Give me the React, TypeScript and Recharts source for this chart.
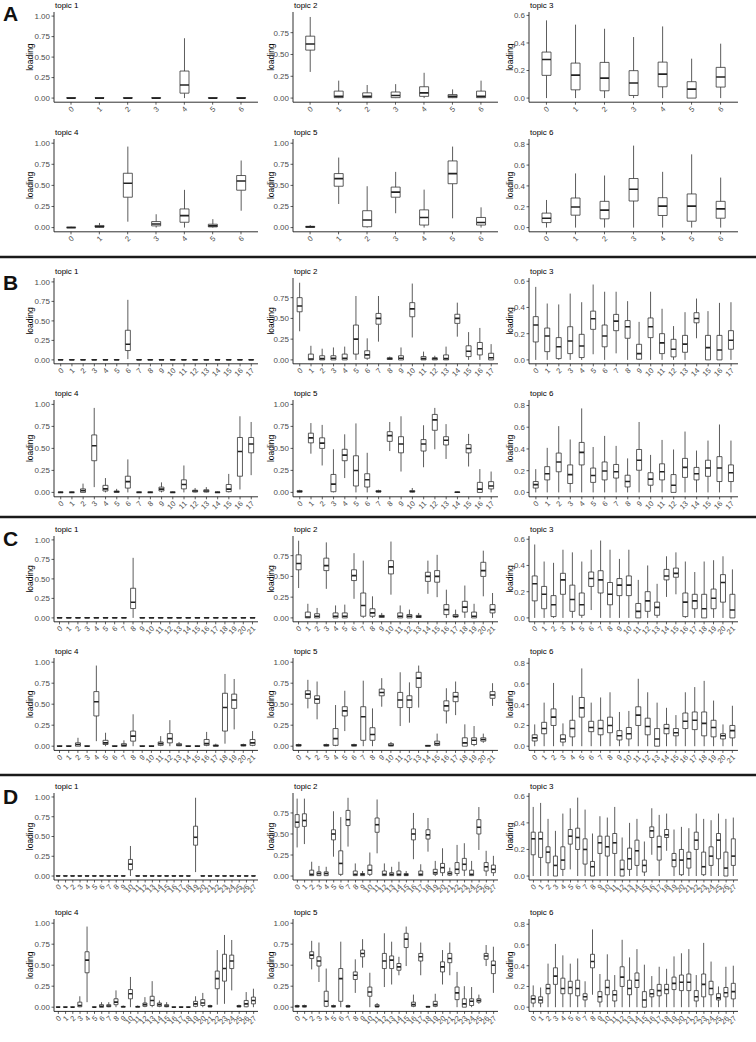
import React from "react";
import { Bar, BarChart, XAxis, YAxis } from "recharts";

// box stats per category: [lower whisker, q1, median, q3, upper whisker]
const Z = [0, 0, 0, 0.005, 0.01];

const catsA = ["0", "1", "2", "3", "4", "5", "6"];
const catsB = ["0", "1", "2", "3", "4", "5", "6", "7", "8", "9", "10", "11", "12", "13", "14", "15", "16", "17"];
const catsC = ["0", "1", "2", "3", "4", "5", "6", "7", "8", "9", "10", "11", "12", "13", "14", "15", "16", "17", "18", "19", "20", "21"];
const catsD = ["0", "1", "2", "3", "4", "5", "6", "7", "8", "9", "10", "11", "12", "13", "14", "15", "16", "17", "18", "19", "20", "21", "22", "23", "24", "25", "26", "27"];

const a1 = [Z, Z, Z, Z, [0, 0.06, 0.16, 0.33, 0.73], Z, Z];
const a2 = [[0.3, 0.55, 0.62, 0.71, 0.93], [0, 0.005, 0.02, 0.08, 0.2], [0, 0.005, 0.02, 0.06, 0.15], [0, 0.005, 0.03, 0.07, 0.16], [0, 0.02, 0.06, 0.13, 0.29], [0, 0.005, 0.02, 0.04, 0.1], [0, 0.005, 0.02, 0.08, 0.2]];
const a3 = [[0, 0.165, 0.28, 0.334, 0.564], [0, 0.06, 0.167, 0.254, 0.533], [0, 0.053, 0.145, 0.259, 0.503], [0, 0.019, 0.109, 0.199, 0.443], [0, 0.082, 0.174, 0.261, 0.52], [0, 0, 0.065, 0.119, 0.286], [0, 0.08, 0.153, 0.223, 0.395]];
const a4 = [Z, [0, 0.005, 0.01, 0.025, 0.055], [0.07, 0.36, 0.526, 0.644, 0.96], [0, 0.02, 0.043, 0.071, 0.158], [0, 0.063, 0.142, 0.221, 0.447], [0, 0.008, 0.02, 0.04, 0.1], [0.2, 0.443, 0.553, 0.617, 0.795]];
const a5 = [[0, 0.003, 0.008, 0.015, 0.03], [0.28, 0.49, 0.58, 0.64, 0.83], [0, 0.01, 0.09, 0.2, 0.49], [0.17, 0.36, 0.42, 0.48, 0.66], [0, 0.03, 0.12, 0.21, 0.45], [0.11, 0.52, 0.64, 0.79, 0.96], [0, 0.03, 0.06, 0.12, 0.24]];
const a6 = [[0, 0.048, 0.09, 0.139, 0.265], [0, 0.119, 0.197, 0.284, 0.52], [0, 0.084, 0.168, 0.252, 0.5], [0, 0.255, 0.368, 0.471, 0.787], [0, 0.116, 0.206, 0.287, 0.535], [0, 0.061, 0.206, 0.323, 0.703], [0, 0.09, 0.18, 0.252, 0.48]];

const b1 = [Z, Z, Z, Z, Z, Z, [0.01, 0.12, 0.2, 0.38, 0.77], Z, Z, Z, Z, Z, Z, Z, Z, Z, Z, Z];
const b2 = [[0.345, 0.58, 0.65, 0.75, 0.93], [0, 0, 0.01, 0.07, 0.17], [0, 0, 0.015, 0.05, 0.135], [0, 0, 0.02, 0.05, 0.15], [0, 0, 0.02, 0.07, 0.16], [0, 0.07, 0.25, 0.42, 0.77], [0, 0.02, 0.06, 0.11, 0.26], [0.22, 0.43, 0.5, 0.56, 0.77], [0, 0.005, 0.015, 0.025, 0.04], [0, 0, 0.02, 0.05, 0.15], [0.27, 0.52, 0.615, 0.69, 0.92], [0, 0, 0.015, 0.04, 0.1], [0, 0, 0.015, 0.025, 0.05], [0, 0, 0.015, 0.06, 0.16], [0.28, 0.44, 0.5, 0.55, 0.69], [0, 0.04, 0.105, 0.17, 0.335], [0, 0.06, 0.135, 0.21, 0.385], [0, 0, 0.025, 0.08, 0.19]];
const b3 = [[0, 0.137, 0.266, 0.33, 0.557], [0, 0.063, 0.182, 0.243, 0.43], [0, 0.01, 0.1, 0.17, 0.423], [0, 0.048, 0.144, 0.253, 0.506], [0, 0.018, 0.106, 0.195, 0.44], [0.043, 0.233, 0.314, 0.372, 0.575], [0, 0.1, 0.182, 0.266, 0.52], [0.05, 0.223, 0.296, 0.347, 0.52], [0, 0.165, 0.253, 0.3, 0.448], [0, 0.005, 0.048, 0.119, 0.29], [0, 0.17, 0.253, 0.32, 0.52], [0, 0.048, 0.13, 0.2, 0.39], [0, 0.023, 0.081, 0.157, 0.258], [0, 0.058, 0.12, 0.187, 0.364], [0.165, 0.283, 0.316, 0.36, 0.468], [0, 0, 0.094, 0.187, 0.372], [0, 0, 0.076, 0.187, 0.435], [0, 0.081, 0.15, 0.223, 0.44]];
const b4 = [Z, Z, [0, 0, 0.02, 0.04, 0.1], [0.06, 0.36, 0.53, 0.653, 0.96], [0, 0.016, 0.04, 0.08, 0.163], [0, 0, 0.008, 0.016, 0.04], [0, 0.049, 0.122, 0.184, 0.375], Z, Z, [0, 0.016, 0.037, 0.06, 0.114], Z, [0, 0.04, 0.09, 0.143, 0.306], [0, 0.004, 0.016, 0.025, 0.05], [0, 0.004, 0.016, 0.03, 0.06], Z, [0, 0.008, 0.037, 0.09, 0.21], [0.033, 0.184, 0.465, 0.624, 0.865], [0.196, 0.45, 0.55, 0.624, 0.8]];
const b5 = [[0, 0.003, 0.01, 0.02, 0.03], [0.44, 0.563, 0.62, 0.673, 0.788], [0.306, 0.5, 0.56, 0.62, 0.767], [0, 0.008, 0.094, 0.204, 0.49], [0.163, 0.36, 0.424, 0.49, 0.66], [0, 0.073, 0.249, 0.416, 0.784], [0, 0.061, 0.143, 0.212, 0.45], [0, 0.004, 0.01, 0.02, 0.03], [0.47, 0.58, 0.645, 0.69, 0.8], [0.237, 0.45, 0.55, 0.633, 0.865], [0, 0.004, 0.01, 0.02, 0.05], [0.286, 0.47, 0.55, 0.6, 0.763], [0.49, 0.706, 0.824, 0.886, 0.96], [0.38, 0.539, 0.592, 0.633, 0.776], [0, 0, 0.002, 0.005, 0.01], [0.294, 0.449, 0.498, 0.543, 0.665], [0, 0, 0.037, 0.114, 0.265], [0, 0.04, 0.073, 0.122, 0.237]];
const b6 = [[0, 0.04, 0.072, 0.1, 0.214], [0, 0.115, 0.171, 0.237, 0.41], [0, 0.19, 0.28, 0.362, 0.61], [0, 0.082, 0.164, 0.253, 0.487], [0, 0.253, 0.368, 0.46, 0.773], [0, 0.092, 0.155, 0.224, 0.418], [0, 0.115, 0.197, 0.28, 0.52], [0, 0.132, 0.19, 0.257, 0.428], [0, 0.05, 0.1, 0.158, 0.313], [0, 0.204, 0.296, 0.395, 0.648], [0, 0.066, 0.122, 0.181, 0.345], [0, 0.115, 0.19, 0.263, 0.483], [0, 0, 0.066, 0.164, 0.395], [0, 0.138, 0.23, 0.313, 0.56], [0, 0.115, 0.171, 0.23, 0.385], [0, 0.148, 0.224, 0.296, 0.477], [0, 0.1, 0.224, 0.329, 0.625], [0, 0.1, 0.181, 0.253, 0.477]];

const c1 = [Z, Z, Z, Z, Z, Z, Z, Z, [0, 0.12, 0.2, 0.38, 0.77], Z, Z, Z, Z, Z, Z, Z, Z, Z, Z, Z, Z, Z];
const c2 = [[0.36, 0.58, 0.655, 0.76, 0.93], [0, 0, 0.01, 0.07, 0.17], [0, 0, 0.02, 0.05, 0.12], [0.35, 0.57, 0.63, 0.72, 0.91], [0, 0, 0.02, 0.06, 0.15], [0, 0, 0.02, 0.06, 0.16], [0.23, 0.45, 0.51, 0.58, 0.78], [0, 0.02, 0.15, 0.3, 0.69], [0, 0.02, 0.06, 0.11, 0.26], [0, 0.005, 0.02, 0.03, 0.06], [0.28, 0.53, 0.615, 0.69, 0.92], [0, 0, 0.02, 0.06, 0.15], [0, 0, 0.02, 0.04, 0.1], [0, 0.005, 0.015, 0.03, 0.06], [0.29, 0.44, 0.5, 0.55, 0.69], [0.25, 0.43, 0.5, 0.57, 0.76], [0, 0.04, 0.1, 0.16, 0.34], [0, 0.01, 0.02, 0.04, 0.1], [0, 0.07, 0.13, 0.2, 0.39], [0, 0, 0.02, 0.07, 0.17], [0.26, 0.5, 0.57, 0.67, 0.81], [0, 0.06, 0.1, 0.16, 0.3]];
const c3 = [[0, 0.13, 0.26, 0.32, 0.56], [0, 0.07, 0.18, 0.24, 0.43], [0, 0.01, 0.1, 0.17, 0.42], [0, 0.18, 0.29, 0.34, 0.52], [0, 0.05, 0.14, 0.25, 0.5], [0, 0.02, 0.1, 0.19, 0.43], [0.06, 0.24, 0.3, 0.35, 0.52], [0, 0.19, 0.29, 0.36, 0.59], [0, 0.1, 0.18, 0.27, 0.52], [0, 0.17, 0.25, 0.3, 0.45], [0, 0.17, 0.25, 0.32, 0.52], [0, 0, 0.05, 0.11, 0.29], [0, 0.05, 0.13, 0.2, 0.4], [0, 0.02, 0.08, 0.12, 0.26], [0.16, 0.29, 0.32, 0.37, 0.47], [0.18, 0.31, 0.34, 0.38, 0.5], [0, 0.01, 0.12, 0.19, 0.43], [0, 0.07, 0.13, 0.18, 0.35], [0, 0, 0.07, 0.18, 0.43], [0, 0.07, 0.15, 0.22, 0.44], [0, 0.12, 0.27, 0.33, 0.47], [0, 0, 0.06, 0.18, 0.37]];
const c4 = [Z, Z, [0, 0, 0.02, 0.04, 0.1], Z, [0.06, 0.36, 0.53, 0.65, 0.96], [0, 0.02, 0.04, 0.07, 0.16], Z, [0, 0, 0.01, 0.03, 0.07], [0, 0.06, 0.12, 0.18, 0.38], Z, Z, [0, 0.01, 0.03, 0.05, 0.12], [0, 0.04, 0.09, 0.15, 0.31], [0, 0.005, 0.015, 0.03, 0.05], Z, Z, [0, 0.01, 0.03, 0.08, 0.17], [0, 0, 0.005, 0.015, 0.03], [0.03, 0.18, 0.46, 0.63, 0.86], [0.2, 0.45, 0.55, 0.62, 0.8], [0, 0.005, 0.01, 0.02, 0.03], [0, 0.01, 0.04, 0.08, 0.18]];
const c5 = [[0, 0.003, 0.01, 0.02, 0.03], [0.45, 0.57, 0.62, 0.66, 0.79], [0.32, 0.51, 0.56, 0.6, 0.77], [0, 0.003, 0.01, 0.02, 0.03], [0, 0.01, 0.09, 0.21, 0.49], [0.18, 0.36, 0.42, 0.47, 0.66], [0, 0.003, 0.01, 0.02, 0.03], [0, 0.07, 0.35, 0.47, 0.78], [0, 0.07, 0.14, 0.22, 0.45], [0.47, 0.6, 0.64, 0.68, 0.81], [0, 0.005, 0.01, 0.03, 0.05], [0.24, 0.46, 0.55, 0.64, 0.88], [0.28, 0.46, 0.55, 0.6, 0.76], [0.46, 0.7, 0.81, 0.88, 0.96], [0, 0, 0.005, 0.01, 0.015], [0, 0.01, 0.03, 0.06, 0.15], [0.27, 0.42, 0.48, 0.54, 0.69], [0.37, 0.53, 0.59, 0.64, 0.77], [0, 0, 0.04, 0.1, 0.26], [0, 0.02, 0.07, 0.1, 0.24], [0.04, 0.06, 0.08, 0.1, 0.15], [0.48, 0.57, 0.61, 0.65, 0.75]];
const c6 = [[0, 0.05, 0.08, 0.11, 0.21], [0, 0.12, 0.17, 0.23, 0.42], [0, 0.2, 0.28, 0.36, 0.61], [0, 0.04, 0.07, 0.11, 0.22], [0, 0.09, 0.17, 0.25, 0.49], [0, 0.28, 0.37, 0.47, 0.75], [0, 0.14, 0.18, 0.24, 0.42], [0, 0.11, 0.17, 0.25, 0.47], [0, 0.13, 0.2, 0.28, 0.52], [0, 0.06, 0.1, 0.15, 0.33], [0, 0.07, 0.12, 0.18, 0.34], [0, 0.2, 0.3, 0.38, 0.65], [0, 0.11, 0.19, 0.27, 0.52], [0, 0, 0.07, 0.17, 0.42], [0, 0.12, 0.17, 0.21, 0.37], [0, 0.1, 0.13, 0.17, 0.3], [0, 0.17, 0.24, 0.32, 0.52], [0, 0.16, 0.25, 0.33, 0.57], [0, 0.1, 0.22, 0.33, 0.63], [0, 0.09, 0.18, 0.25, 0.44], [0, 0.07, 0.1, 0.12, 0.21], [0, 0.08, 0.15, 0.2, 0.39]];

const d1 = [Z, Z, Z, Z, Z, Z, Z, Z, Z, Z, [0, 0.08, 0.15, 0.21, 0.38], Z, Z, Z, Z, Z, Z, Z, Z, [0.05, 0.39, 0.49, 0.63, 0.99], Z, Z, Z, Z, Z, Z, Z, Z];
const d2 = [[0.34, 0.58, 0.64, 0.73, 0.92], [0.38, 0.59, 0.66, 0.74, 0.92], [0, 0.005, 0.02, 0.07, 0.17], [0, 0.005, 0.03, 0.05, 0.12], [0, 0.005, 0.03, 0.05, 0.11], [0.23, 0.43, 0.5, 0.55, 0.77], [0, 0.02, 0.15, 0.3, 0.7], [0.35, 0.6, 0.67, 0.78, 0.93], [0, 0.005, 0.02, 0.06, 0.15], [0, 0.005, 0.02, 0.03, 0.06], [0, 0.02, 0.07, 0.13, 0.28], [0.27, 0.52, 0.61, 0.69, 0.91], [0, 0.005, 0.02, 0.06, 0.15], [0, 0.005, 0.02, 0.04, 0.11], [0, 0.005, 0.02, 0.06, 0.17], [0, 0.005, 0.015, 0.03, 0.06], [0.2, 0.43, 0.5, 0.56, 0.75], [0, 0.005, 0.02, 0.06, 0.14], [0.29, 0.44, 0.49, 0.55, 0.69], [0, 0.02, 0.04, 0.08, 0.18], [0, 0.04, 0.1, 0.15, 0.33], [0, 0.01, 0.03, 0.05, 0.1], [0, 0.03, 0.08, 0.16, 0.37], [0, 0.07, 0.14, 0.21, 0.39], [0, 0.005, 0.02, 0.07, 0.18], [0.31, 0.5, 0.58, 0.67, 0.82], [0, 0.06, 0.11, 0.16, 0.3], [0, 0.04, 0.08, 0.13, 0.24]];
const d3 = [[0, 0.16, 0.28, 0.33, 0.52], [0, 0.14, 0.28, 0.33, 0.55], [0, 0.1, 0.18, 0.22, 0.43], [0, 0, 0.08, 0.15, 0.34], [0, 0.05, 0.12, 0.22, 0.47], [0.05, 0.24, 0.3, 0.35, 0.51], [0, 0.2, 0.29, 0.36, 0.59], [0, 0.09, 0.2, 0.28, 0.5], [0, 0, 0.07, 0.11, 0.32], [0, 0.17, 0.25, 0.3, 0.45], [0, 0.15, 0.22, 0.3, 0.44], [0, 0.17, 0.25, 0.32, 0.52], [0, 0, 0.05, 0.12, 0.29], [0, 0.05, 0.13, 0.21, 0.4], [0, 0.08, 0.19, 0.27, 0.43], [0, 0.03, 0.08, 0.12, 0.26], [0.16, 0.29, 0.34, 0.37, 0.51], [0, 0.12, 0.22, 0.3, 0.46], [0.19, 0.29, 0.31, 0.35, 0.47], [0, 0.07, 0.12, 0.17, 0.35], [0, 0.01, 0.12, 0.2, 0.37], [0, 0.06, 0.13, 0.18, 0.36], [0, 0.2, 0.27, 0.33, 0.47], [0, 0.01, 0.07, 0.18, 0.43], [0, 0.08, 0.15, 0.22, 0.42], [0, 0.13, 0.27, 0.32, 0.47], [0, 0, 0.06, 0.18, 0.43], [0, 0.08, 0.15, 0.28, 0.44]];
const d4 = [Z, Z, Z, [0, 0.005, 0.02, 0.06, 0.13], [0.06, 0.41, 0.56, 0.66, 0.96], Z, [0, 0, 0.01, 0.03, 0.06], [0, 0.005, 0.015, 0.03, 0.06], [0, 0.03, 0.06, 0.1, 0.2], [0, 0, 0.005, 0.01, 0.02], [0, 0.1, 0.16, 0.21, 0.36], [0, 0, 0.005, 0.01, 0.02], [0, 0.01, 0.03, 0.05, 0.12], [0, 0.02, 0.08, 0.13, 0.31], [0, 0.01, 0.03, 0.05, 0.08], [0, 0.005, 0.015, 0.03, 0.06], Z, Z, Z, [0, 0.01, 0.04, 0.07, 0.13], [0, 0.02, 0.05, 0.09, 0.17], [0, 0.005, 0.01, 0.02, 0.03], [0.03, 0.22, 0.34, 0.43, 0.68], [0.04, 0.31, 0.46, 0.63, 0.86], [0.2, 0.46, 0.55, 0.62, 0.8], [0, 0.005, 0.01, 0.02, 0.03], [0, 0.005, 0.04, 0.08, 0.18], [0, 0.04, 0.08, 0.12, 0.22]];
const d5 = [[0, 0.003, 0.01, 0.02, 0.03], [0, 0.003, 0.01, 0.02, 0.03], [0.45, 0.58, 0.62, 0.66, 0.79], [0.3, 0.49, 0.55, 0.6, 0.77], [0, 0.01, 0.07, 0.19, 0.46], [0, 0.003, 0.01, 0.02, 0.03], [0, 0.07, 0.34, 0.46, 0.78], [0, 0.003, 0.01, 0.02, 0.03], [0.17, 0.33, 0.38, 0.42, 0.57], [0.47, 0.6, 0.64, 0.68, 0.81], [0, 0.13, 0.18, 0.24, 0.41], [0, 0.005, 0.01, 0.03, 0.05], [0.24, 0.46, 0.55, 0.64, 0.88], [0.27, 0.46, 0.56, 0.61, 0.78], [0.38, 0.44, 0.48, 0.52, 0.6], [0.49, 0.71, 0.81, 0.88, 0.96], [0, 0.01, 0.03, 0.06, 0.15], [0.38, 0.55, 0.6, 0.64, 0.77], [0, 0, 0.005, 0.01, 0.015], [0, 0.01, 0.03, 0.07, 0.16], [0.27, 0.42, 0.48, 0.54, 0.68], [0.38, 0.53, 0.58, 0.64, 0.77], [0, 0.09, 0.17, 0.24, 0.42], [0, 0, 0.04, 0.1, 0.25], [0, 0.02, 0.07, 0.1, 0.24], [0.04, 0.06, 0.08, 0.1, 0.15], [0.49, 0.57, 0.61, 0.64, 0.74], [0.17, 0.4, 0.5, 0.55, 0.72]];
const d6 = [[0, 0.04, 0.08, 0.11, 0.21], [0, 0.04, 0.07, 0.1, 0.19], [0, 0.13, 0.18, 0.22, 0.42], [0, 0.22, 0.3, 0.38, 0.61], [0, 0.13, 0.18, 0.28, 0.5], [0, 0.13, 0.19, 0.25, 0.42], [0, 0.11, 0.18, 0.26, 0.47], [0, 0.07, 0.1, 0.13, 0.25], [0.12, 0.38, 0.44, 0.51, 0.75], [0, 0.05, 0.1, 0.15, 0.32], [0, 0.12, 0.19, 0.26, 0.51], [0, 0.06, 0.12, 0.16, 0.31], [0, 0.2, 0.29, 0.39, 0.65], [0, 0.12, 0.18, 0.26, 0.48], [0, 0.19, 0.26, 0.33, 0.56], [0, 0, 0.07, 0.15, 0.41], [0, 0.1, 0.13, 0.17, 0.3], [0, 0.11, 0.16, 0.22, 0.39], [0, 0.13, 0.17, 0.22, 0.37], [0, 0.17, 0.23, 0.29, 0.49], [0, 0.16, 0.24, 0.31, 0.52], [0, 0.16, 0.24, 0.32, 0.56], [0, 0.06, 0.1, 0.16, 0.31], [0, 0.1, 0.22, 0.32, 0.62], [0, 0.12, 0.18, 0.25, 0.44], [0, 0.07, 0.09, 0.13, 0.2], [0, 0.1, 0.14, 0.19, 0.39], [0, 0.08, 0.15, 0.23, 0.4]];

// per topic: upper end of data range (incl. hidden outliers), axis ticks, decimals
const topicMax = [1.0, 0.94, 0.595, 1.0, 1.0, 0.81];
const ticksQuarter = [0, 0.25, 0.5, 0.75, 1];
const ticksTopic2 = [0, 0.25, 0.5, 0.75];
const ticksTopic3 = [0, 0.2, 0.4, 0.6];
const ticksTopic6 = [0, 0.2, 0.4, 0.6, 0.8];
const topicTicks = [ticksQuarter, ticksTopic2, ticksTopic3, ticksQuarter, ticksQuarter, ticksTopic6];
const topicDec = [2, 2, 1, 2, 2, 1];

const INK = "#333333";
const AXIS = "#1a1a1a";
const FONT = "'Liberation Sans', Arial, sans-serif";

const cols = [
  { x: 54, right: 258, loadOff: 24 },
  { x: 293, right: 498, loadOff: 22 },
  { x: 529, right: 738, loadOff: 19 },
];

const Empty = () => <g />;

const Whisker = (p: any) => {
  const { x, y, width, height } = p;
  if (!height || height <= 0) return <g />;
  const cx = x + width / 2;
  return <line x1={cx} x2={cx} y1={y} y2={y + height} stroke={INK} strokeWidth={0.8} />;
};

const LowerBox = (p: any) => {
  const { x, y, width, height } = p;
  if (!height || height <= 0) return <g />;
  return (
    <path
      d={`M${x},${y} V${y + height} H${x + width} V${y}`}
      fill="#ffffff"
      stroke={INK}
      strokeWidth={0.8}
    />
  );
};

const UpperBox = (p: any) => {
  const { x, y, width, height } = p;
  const h = height || 0;
  return (
    <g>
      <path d={`M${x},${y + h} V${y} H${x + width} V${y + h}`} fill="#ffffff" stroke={INK} strokeWidth={0.8} />
      <line x1={x} x2={x + width} y1={y + h} y2={y + h} stroke="#222" strokeWidth={1.6} />
    </g>
  );
};

const XTick = (p: any) => {
  const { x, y, payload } = p;
  const ax = x + 1.5;
  const ay = y + 1;
  return (
    <text
      x={ax}
      y={ay}
      dy="0.35em"
      textAnchor="end"
      fontSize={7.5}
      fontFamily={FONT}
      fill="#4d4d4d"
      transform={`rotate(-45 ${ax} ${ay})`}
    >
      {payload.value}
    </text>
  );
};

function BoxChart({ col, top, bottom, data, cats, topic }: { col: number; top: number; bottom: number; data: number[][]; cats: string[]; topic: number }) {
  const { x, right, loadOff } = cols[col];
  const W = right - x;
  const H = bottom - top;
  const n = cats.length;
  const unit = W / (n + 0.2);
  const pad = 0.1 * unit;
  // box width in px: a fraction of the slot plus a little for the outline
  const boxW = 0.2 * unit + 3;
  const gap = `${Math.round(((1 - boxW / unit) / 2) * 1000) / 10}%`;
  const r = topicMax[topic];
  const rows = data.map((q, i) => ({
    cat: cats[i],
    lo: q[0],
    w1: q[1] - q[0],
    b1: q[2] - q[1],
    b2: q[3] - q[2],
    w2: q[4] - q[3],
  }));
  const title = `topic ${topic + 1}`;
  const renderLabel = (lp: any) => {
    const vb = lp.viewBox || { x: 0, y: 16, width: 46, height: H };
    const ax = vb.x + vb.width;
    const cy = vb.y + vb.height / 2;
    return (
      <g>
        <text
          x={ax - loadOff}
          y={cy}
          dy="0.35em"
          textAnchor="middle"
          fontSize={8.5}
          fontFamily={FONT}
          fill="#000"
          transform={`rotate(-90 ${ax - loadOff} ${cy})`}
        >
          loading
        </text>
        <text x={ax + 1} y={vb.y - 4} fontSize={8} fontFamily={FONT} fill="#000">
          {title}
        </text>
      </g>
    );
  };
  return (
    <div style={{ position: "absolute", left: x - 46, top: top - 16 }}>
      <BarChart
        width={W + 52}
        height={H + 46}
        data={rows}
        margin={{ top: 16, right: 6, left: 0, bottom: 0 }}
        barCategoryGap={gap}
      >
        <XAxis
          dataKey="cat"
          height={30}
          interval={0}
          padding={{ left: pad, right: pad }}
          tick={<XTick />}
          tickSize={2.5}
          axisLine={{ stroke: AXIS, strokeWidth: 0.9 }}
          tickLine={{ stroke: AXIS, strokeWidth: 0.7 }}
        />
        <YAxis
          type="number"
          width={46}
          domain={[-0.05 * r, 1.05 * r]}
          allowDataOverflow
          ticks={topicTicks[topic]}
          tickFormatter={(v: number) => v.toFixed(topicDec[topic])}
          tick={{ fontSize: 8, fill: "#4d4d4d", fontFamily: FONT }}
          tickSize={2.5}
          tickMargin={1.5}
          axisLine={{ stroke: AXIS, strokeWidth: 0.9 }}
          tickLine={{ stroke: AXIS, strokeWidth: 0.7 }}
          label={renderLabel}
        />
        <Bar dataKey="lo" stackId="s" shape={<Empty />} isAnimationActive={false} />
        <Bar dataKey="w1" stackId="s" shape={<Whisker />} isAnimationActive={false} />
        <Bar dataKey="b1" stackId="s" shape={<LowerBox />} isAnimationActive={false} />
        <Bar dataKey="b2" stackId="s" shape={<UpperBox />} isAnimationActive={false} />
        <Bar dataKey="w2" stackId="s" shape={<Whisker />} isAnimationActive={false} />
      </BarChart>
    </div>
  );
}

// plot-panel vertical extents (top, bottom) for each row of each block
const rowsLayout = [
  { block: "A", cats: catsA, sets: [a1, a2, a3, a4, a5, a6], r1: [11.6, 101.8], r2: [139.1, 231.9] },
  { block: "B", cats: catsB, sets: [b1, b2, b3, b4, b5, b6], r1: [278.1, 363.9], r2: [399.6, 496.4] },
  { block: "C", cats: catsC, sets: [c1, c2, c3, c4, c5, c6], r1: [536.1, 621.9], r2: [657.8, 750.2] },
  { block: "D", cats: catsD, sets: [d1, d2, d3, d4, d5, d6], r1: [793, 880], r2: [918.8, 1011.2] },
];

const letterY = [21, 290, 546, 804];
const separators = [257, 517, 775];

export default function App() {
  return (
    <div
      style={{
        position: "absolute",
        left: 0,
        top: 0,
        width: 756,
        height: 1042,
        background: "#ffffff",
        overflow: "hidden",
        fontFamily: FONT,
      }}
    >
      <svg width={756} height={1042} style={{ position: "absolute", left: 0, top: 0 }}>
        {separators.map((y) => (
          <line key={y} x1={0} x2={756} y1={y} y2={y} stroke="#1a1a1a" strokeWidth={2.5} />
        ))}
        {rowsLayout.map((b, i) => (
          <text key={b.block} x={3} y={letterY[i]} fontSize={21} fontWeight="bold" fontFamily={FONT} fill="#111">
            {b.block}
          </text>
        ))}
      </svg>
      {rowsLayout.map((b) =>
        b.sets.map((set, t) => {
          const row = t < 3 ? b.r1 : b.r2;
          return (
            <BoxChart
              key={`${b.block}${t}`}
              col={t % 3}
              top={row[0]}
              bottom={row[1]}
              data={set}
              cats={b.cats}
              topic={t}
            />
          );
        })
      )}
    </div>
  );
}
